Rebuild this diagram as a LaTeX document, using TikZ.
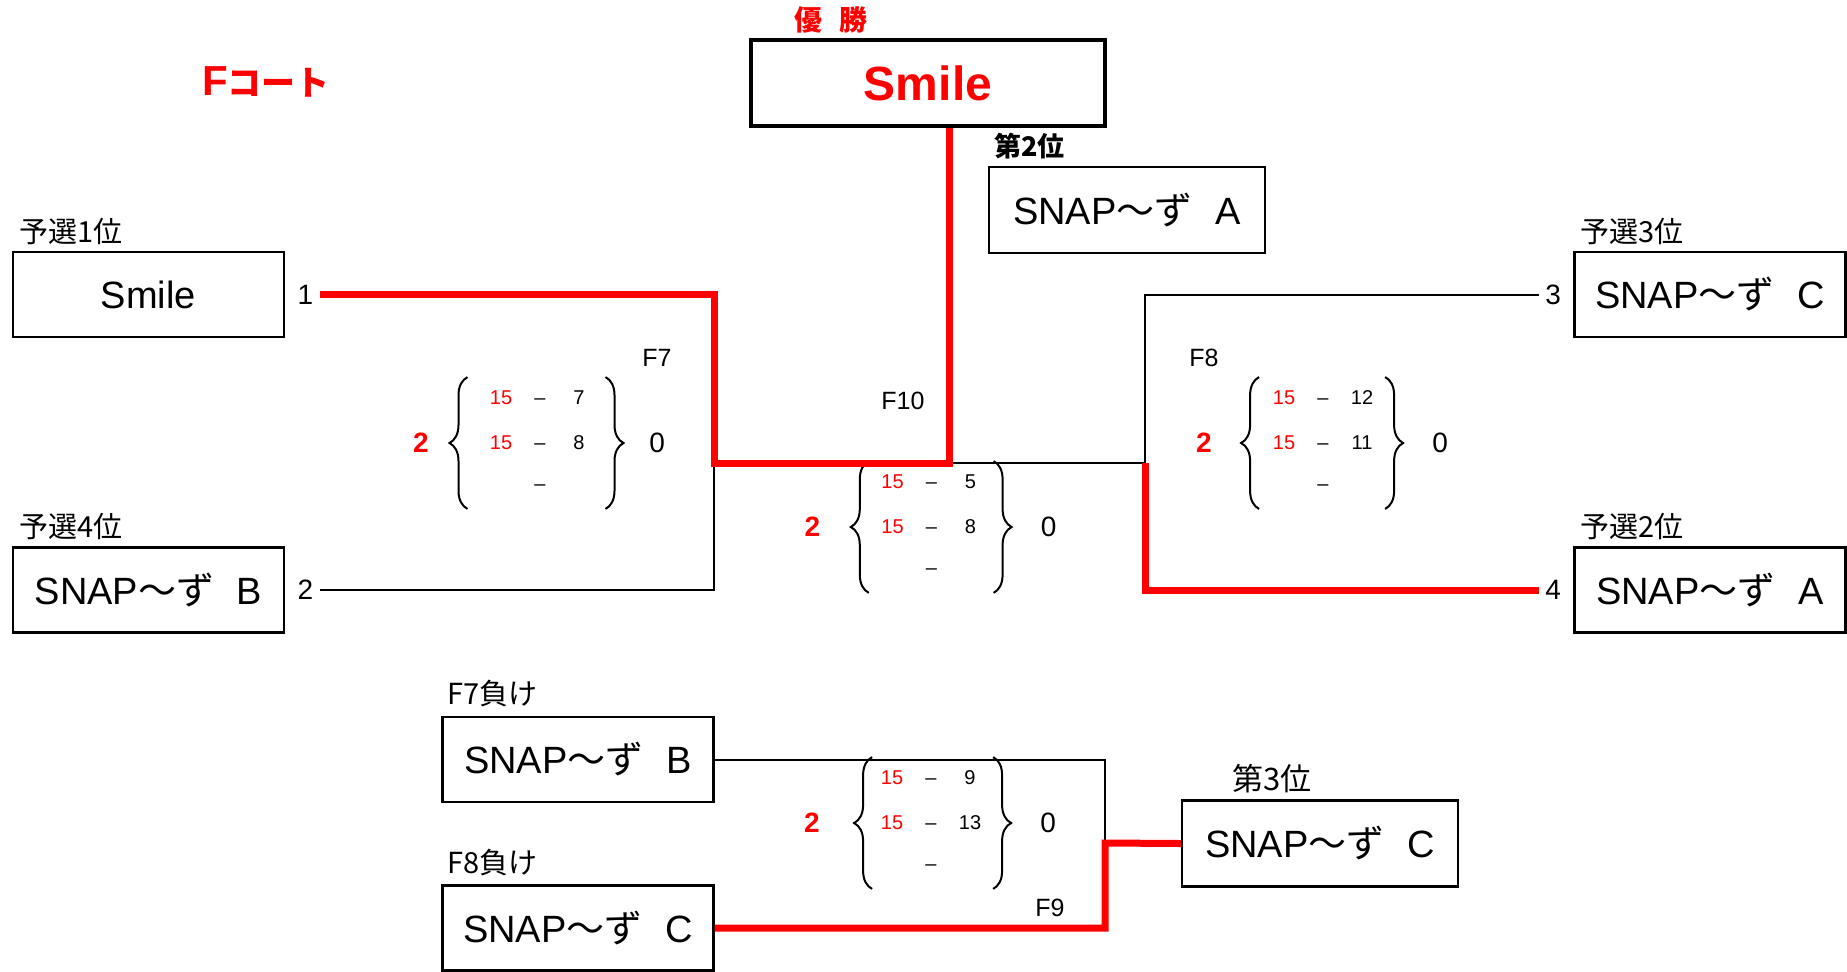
\documentclass[tikz,border=0pt]{standalone}
\usepackage{fontspec}
\setmainfont{Liberation Sans}
\newfontfamily\jp{Noto Sans CJK JP}
\usepackage{xcolor}
\usepackage{tikz}
\usetikzlibrary{positioning,matrix,decorations.pathreplacing}

\begin{document}
\begin{tikzpicture}[
  x=0.5pt, y=-0.5pt,
  node distance=4pt,
  team/.style={draw, line width=1.2pt, minimum width=135.5pt, minimum height=42.5pt, font=\fontsize{19}{22}\selectfont},
  podium/.style={team, minimum width=138pt, minimum height=43pt},
  champ/.style={draw, line width=2.2pt, minimum width=177pt, minimum height=43pt, text=red, font=\bfseries\fontsize{24}{26}\selectfont},
  lbl/.style={inner sep=0pt, font=\jp\fontsize{14.5}{16}\selectfont},
  seed/.style={inner xsep=3pt, inner ysep=0pt, font=\fontsize{14}{16}\selectfont},
  fname/.style={inner sep=0pt, font=\fontsize{12.5}{14}\selectfont},
  game/.style={matrix of nodes, inner sep=0pt, row sep=0pt, column sep=0pt,
    nodes={minimum width=19.5pt, minimum height=20.5pt, inner sep=0pt, font=\fontsize{10}{12}\selectfont}},
  won/.style={inner sep=0pt, red, font=\bfseries\fontsize{14}{16}\selectfont},
  lost/.style={inner sep=0pt, font=\fontsize{14}{16}\selectfont},
  brc/.style={decorate, decoration={brace, amplitude=9pt}, line width=1pt},
  lline/.style={line width=1pt},
  wline/.style={red, line width=3.5pt}
]
\useasboundingbox (0,0) rectangle (1847,971);

% titles
\node[red, inner sep=0pt, font=\jp\bfseries\fontsize{17}{20}\selectfont] (court) at (266,82) {{\rmfamily\fontsize{21}{20}\selectfont F}コート};
\node[champ] (champ) at (928,83) {Smile};
\node[red, inner sep=0pt, font=\jp\bfseries\fontsize{14}{16}\selectfont, above right=2pt and 22.5pt of champ.north west] (win) {優\hspace{0.6em}勝};
\node[podium] (second) at (1127,210) {SNAP{\jp ～ず}\hspace{0.6em}A};
\node[lbl, font=\jp\bfseries\fontsize{13.5}{16}\selectfont, above right=3pt and 3pt of second.north west] (l2nd) {第2位};

% seeded teams
\node[team] (s1) at (148.5,294.5) {Smile};
\node[team] (s4) at (148.5,590) {SNAP{\jp ～ず}\hspace{0.6em}B};
\node[team] (s3) at (1710,294.5) {SNAP{\jp ～ず}\hspace{0.6em}C};
\node[team] (s2) at (1710,590) {SNAP{\jp ～ず}\hspace{0.6em}A};
\node[lbl, above right=3pt and 3.5pt of s1.north west] (ls1) {予選1位};
\node[lbl, above right=3pt and 3.5pt of s4.north west] (ls4) {予選4位};
\node[lbl, above right=3pt and 3.5pt of s3.north west] (ls3) {予選3位};
\node[lbl, above right=3pt and 3.5pt of s2.north west] (ls2) {予選2位};
\node[seed, right=3pt of s1] (n1) {1};
\node[seed, right=3pt of s4] (n2) {2};
\node[seed, left=3pt of s3] (n3) {3};
\node[seed, left=3pt of s2] (n4) {4};

% 3rd place match
\node[team] (f7l) at (578,759.5) {SNAP{\jp ～ず}\hspace{0.6em}B};
\node[team] (f8l) at (578,928) {SNAP{\jp ～ず}\hspace{0.6em}C};
\node[lbl, above right=4pt and 3pt of f7l.north west] (lf7l) {F7負け};
\node[lbl, above right=4pt and 3pt of f8l.north west] (lf8l) {F8負け};
\node[podium] (third) at (1320,843.5) {SNAP{\jp ～ず}\hspace{0.6em}C};
\node[lbl, font=\jp\fontsize{15.5}{17}\selectfont, above right=3pt and 25.5pt of third.north west] (l3rd) {第3位};

% match names
\node[fname] (f7) at (657,358) {F7};
\node[fname] (f8) at (1204,358) {F8};
\node[fname] (f10) at (903,401) {F10};
\node[fname] (f9) at (1050,908) {F9};

% scores
\matrix (m7) [game] at (540,443) {
  |[red]| 15 & – & 7 \\
  |[red]| 15 & – & 8 \\
  & – & \\
};
\matrix (m8) [game] at (1323,443) {
  |[red]| 15 & – & 12 \\
  |[red]| 15 & – & 11 \\
  & – & \\
};
\matrix (m10) [game] at (931.5,527) {
  |[red]| 15 & – & 5 \\
  |[red]| 15 & – & 8 \\
  & – & \\
};
\matrix (m9) [game] at (931,823) {
  |[red]| 15 & – & 9 \\
  |[red]| 15 & – & 13 \\
  & – & \\
};
\draw[brc] ([xshift=-6.8pt]m7.south west) -- ([xshift=-6.8pt]m7.north west);
\draw[brc] ([xshift=3.3pt]m7.north east) -- ([xshift=3.3pt]m7.south east);
\draw[brc] ([xshift=-2.5pt]m8.south west) -- ([xshift=-2.5pt]m8.north west);
\draw[brc] ([xshift=1.6pt]m8.north east) -- ([xshift=1.6pt]m8.south east);
\draw[brc] ([xshift=-1.9pt]m10.south west) -- ([xshift=-1.9pt]m10.north west);
\draw[brc] ([xshift=1.6pt]m10.north east) -- ([xshift=1.6pt]m10.south east);
\draw[brc] ([xshift=0pt]m9.south west) -- ([xshift=0pt]m9.north west);
\draw[brc] ([xshift=1.6pt]m9.north east) -- ([xshift=1.6pt]m9.south east);
\node[won, left=26pt of m7] (w7) {2};
\node[lost, right=25pt of m7] (r7) {0};
\node[won, left=26pt of m8] (w8) {2};
\node[lost, right=25pt of m8] (r8) {0};
\node[won, left=26pt of m10] (w10) {2};
\node[lost, right=25pt of m10] (r10) {0};
\node[won, left=26pt of m9] (w9) {2};
\node[lost, right=25pt of m9] (r9) {0};

% bracket lines
\coordinate (j7) at (714,463);
\coordinate (j10) at (949,463);
\coordinate (j8) at (1145,463);
\coordinate (j9) at (1105,843);

\draw[lline] (n2.east) -| (j7);
\draw[lline] (j10) -- (j8);
\draw[lline] (n3.west) -| (j8);
\draw[lline] (f7l.east) -| (j9);
\draw[wline] (n1.east) -| (j7) -- (j10) -- (j10 |- champ.south);
\draw[wline] (n4.west) -| (j8);
\draw[wline] (f8l.east) -| (j9) -- (third.west);
\end{tikzpicture}
\end{document}
